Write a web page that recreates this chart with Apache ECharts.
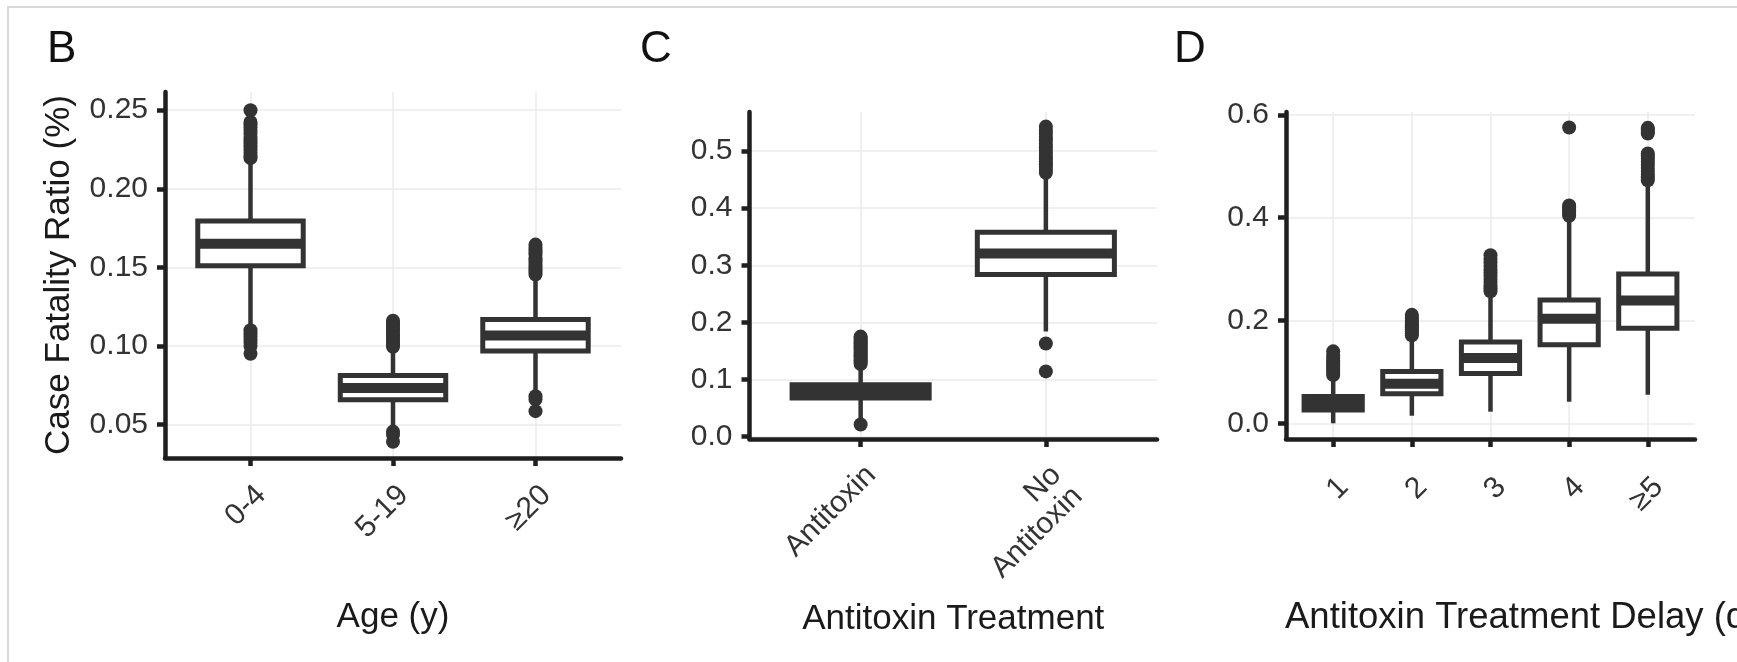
<!DOCTYPE html>
<html>
<head>
<meta charset="utf-8">
<script src="https://cdn.jsdelivr.net/npm/echarts@6.0.0/dist/echarts.min.js"></script>
<style>
  html, body { margin: 0; padding: 0; background: #fff; }
  #main { width: 1737px; height: 662px; }
</style>
</head>
<body>
<div id="main"></div>
<script>
// panel B: age =======================================================================================================
var ageGroups = ['0-4', '5-19', '≥20'];
// [whisker low, q1, median, q3, whisker high]
var ageBoxes = [
    [0.112, 0.151, 0.165, 0.1795, 0.2185],
    [0.0475, 0.0657, 0.0733, 0.0812, 0.0985],
    [0.0713, 0.0968, 0.1067, 0.1169, 0.1435]
];
var ageOutliers = [
    [0.2195, 0.221, 0.223, 0.225, 0.227, 0.229, 0.231, 0.233, 0.235, 0.237, 0.239, 0.241, 0.2425, 0.250,
     0.110, 0.108, 0.106, 0.104, 0.102, 0.100, 0.095],
    [0.0995, 0.101, 0.1025, 0.104, 0.1055, 0.107, 0.1085, 0.110, 0.1115, 0.113, 0.1145, 0.116,
     0.0455, 0.0435, 0.039],
    [0.1455, 0.147, 0.1485, 0.150, 0.1515, 0.153, 0.1545, 0.156, 0.158, 0.1595, 0.161, 0.163, 0.1645,
     0.068, 0.066, 0.0585]
];
var ageTicks = [0.05, 0.10, 0.15, 0.20, 0.25];

// panel C: treatment ==================================================================================================
var treatGroups = ['Antitoxin', 'No\nAntitoxin'];
var treatBoxes = [
    [0.031, 0.0672, 0.078, 0.0905, 0.119],
    [0.184, 0.2837, 0.3207, 0.3577, 0.46]
];
var treatOutliers = [
    [0.127, 0.130, 0.133, 0.136, 0.139, 0.142, 0.145, 0.148, 0.151, 0.154, 0.157, 0.160, 0.163, 0.166, 0.169, 0.172, 0.175,
     0.021],
    [0.462, 0.467, 0.472, 0.477, 0.482, 0.487, 0.492, 0.497, 0.502, 0.507, 0.513, 0.519, 0.525, 0.531, 0.537, 0.543,
     0.163, 0.114]
];
var treatTicks = [0.0, 0.1, 0.2, 0.3, 0.4, 0.5];

// panel D: treatment delay ============================================================================================
var delayGroups = ['1', '2', '3', '4', '≥5'];
var delayBoxes = [
    [0.0, 0.0259, 0.039, 0.0522, 0.09],
    [0.0147, 0.0574, 0.0769, 0.1008, 0.165],
    [0.0226, 0.0967, 0.127, 0.158, 0.2445],
    [0.0417, 0.1528, 0.2034, 0.240, 0.40],
    [0.0555, 0.1847, 0.2388, 0.2906, 0.468]
];
var delayOutliers = [
    [0.094, 0.098, 0.102, 0.106, 0.110, 0.114, 0.118, 0.122, 0.127, 0.132, 0.140],
    [0.171, 0.175, 0.179, 0.183, 0.187, 0.191, 0.195, 0.199, 0.203, 0.207, 0.211],
    [0.257, 0.263, 0.269, 0.275, 0.281, 0.287, 0.293, 0.299, 0.306, 0.313, 0.320, 0.327],
    [0.404, 0.408, 0.412, 0.416, 0.420, 0.424, 0.5755],
    [0.473, 0.479, 0.485, 0.491, 0.497, 0.503, 0.509, 0.515, 0.520, 0.525, 0.564, 0.568, 0.572, 0.575]
];
var delayTicks = [0.0, 0.2, 0.4, 0.6];

var ink = '#333333';
var axisInk = '#1f1f1f';
var font = 'Liberation Sans, Arial, sans-serif';

function boxRows(boxes) {
    return boxes.map(function (b, i) { return [i + 1].concat(b); });
}

function outlierRows(outliers) {
    var rows = [];
    outliers.forEach(function (list, i) {
        list.forEach(function (v) { rows.push([i + 1, v]); });
    });
    return rows;
}

// ggplot-like box: whisker, white box, fat median, no caps
function renderBox(params, api) {
    var x = api.value(0);
    var lo = api.coord([x, api.value(1)]);
    var q1 = api.coord([x, api.value(2)]);
    var med = api.coord([x, api.value(3)]);
    var q3 = api.coord([x, api.value(4)]);
    var hi = api.coord([x, api.value(5)]);
    var w = api.size([0.74, 0])[0];
    return {
        type: 'group',
        children: [
            {type: 'line', shape: {x1: lo[0], y1: lo[1], x2: hi[0], y2: hi[1]},
             style: {stroke: ink, lineWidth: 4.5}},
            {type: 'rect', shape: {x: q1[0] - w / 2, y: q3[1], width: w, height: q1[1] - q3[1]},
             style: {fill: '#fff', stroke: ink, lineWidth: 5}},
            {type: 'line', shape: {x1: med[0] - w / 2, y1: med[1], x2: med[0] + w / 2, y2: med[1]},
             style: {stroke: ink, lineWidth: 10, lineCap: 'butt'}}
        ]
    };
}

function xAxisFor(idx, groups, margin) {
    var pos = groups.map(function (g, i) { return i + 1; });
    return {
        type: 'value', gridIndex: idx, min: 0.4, max: groups.length + 0.6,
        axisLine: {show: true, onZero: false, lineStyle: {color: axisInk, width: 4.5}},
        axisTick: {show: true, length: 8, customValues: pos, lineStyle: {color: axisInk, width: 4.5}},
        axisLabel: {
            customValues: pos, rotate: 45, align: 'right', verticalAlign: 'top', margin: margin,
            fontSize: 30, color: ink, fontFamily: font,
            formatter: function (v) { return groups[Math.round(v) - 1]; }
        },
        splitLine: {show: true, lineStyle: {color: '#ebebeb', width: 1.5}}
    };
}

function yAxisFor(idx, min, max, ticks, digits) {
    return {
        type: 'value', gridIndex: idx, min: min, max: max,
        axisLine: {show: true, onZero: false, lineStyle: {color: axisInk, width: 4.5}},
        axisTick: {show: true, length: 8, customValues: ticks, lineStyle: {color: axisInk, width: 4.5}},
        axisLabel: {
            customValues: ticks, margin: 17, fontSize: 30, color: ink, fontFamily: font,
            formatter: function (v) { return v.toFixed(digits); }
        },
        splitLine: {show: true, lineStyle: {color: '#ebebeb', width: 1.5}}
    };
}

function boxSeries(idx, boxes) {
    return {type: 'custom', xAxisIndex: idx, yAxisIndex: idx, renderItem: renderBox,
            data: boxRows(boxes), z: 3};
}

function dotSeries(idx, outliers) {
    return {type: 'scatter', xAxisIndex: idx, yAxisIndex: idx, symbol: 'circle', symbolSize: 14,
            itemStyle: {color: ink, opacity: 1}, data: outlierRows(outliers), z: 4};
}

var myChart = echarts.init(document.getElementById('main'), null, {renderer: 'canvas'});

var xB = xAxisFor(0, ageGroups, 22);
xB.name = 'Age (y)';
xB.nameLocation = 'middle';
xB.nameGap = 142;
xB.nameMoveOverlap = false;
xB.nameTextStyle = {fontSize: 35, color: '#1a1a1a', fontFamily: font, verticalAlign: 'top'};

var xC = xAxisFor(1, treatGroups, 21);
xC.name = 'Antitoxin Treatment';
xC.nameLocation = 'middle';
xC.nameGap = 163;
xC.nameMoveOverlap = false;
xC.nameTextStyle = {fontSize: 35, color: '#1a1a1a', fontFamily: font, verticalAlign: 'top'};

var xD = xAxisFor(2, delayGroups, 33);

var yB = yAxisFor(0, 0.0287, 0.2616, ageTicks, 2);
yB.name = 'Case Fatality Ratio (%)';
yB.nameLocation = 'middle';
yB.nameGap = 88;
yB.nameMoveOverlap = false;
yB.nameTextStyle = {fontSize: 35, color: '#1a1a1a', fontFamily: font};

var yC = yAxisFor(1, -0.0045, 0.5686, treatTicks, 1);
var yD = yAxisFor(2, -0.0306, 0.6058, delayTicks, 1);

var tagStyle = {fontSize: 44, fontWeight: 'normal', color: '#111', fontFamily: font};

myChart.setOption({
    animation: false,
    backgroundColor: '#fff',
    textStyle: {fontFamily: font},
    title: [
        {text: 'B', left: 47, top: 28, padding: 0, textStyle: tagStyle},
        {text: 'C', left: 640, top: 28, padding: 0, textStyle: tagStyle},
        {text: 'D', left: 1174, top: 28, padding: 0, textStyle: tagStyle},
        {text: 'Antitoxin Treatment Delay (days)', left: 1285, top: 599, padding: 0,
         textStyle: {fontSize: 36.5, fontWeight: 'normal', color: '#1a1a1a', fontFamily: font}}
    ],
    graphic: [
        {type: 'rect', shape: {x: 8, y: 7, width: 2400, height: 1200}, silent: true,
         style: {fill: null, stroke: '#d9d9d9', lineWidth: 2}}
    ],
    grid: [
        {left: 165, top: 92, width: 456, height: 366, containLabel: false, outerBoundsMode: 'none'},
        {left: 749.5, top: 112, width: 407.5, height: 327, containLabel: false, outerBoundsMode: 'none'},
        {left: 1286, top: 112, width: 409, height: 327, containLabel: false, outerBoundsMode: 'none'}
    ],
    xAxis: [xB, xC, xD],
    yAxis: [yB, yC, yD],
    series: [
        boxSeries(0, ageBoxes), dotSeries(0, ageOutliers),
        boxSeries(1, treatBoxes), dotSeries(1, treatOutliers),
        boxSeries(2, delayBoxes), dotSeries(2, delayOutliers)
    ]
});
</script>
</body>
</html>
